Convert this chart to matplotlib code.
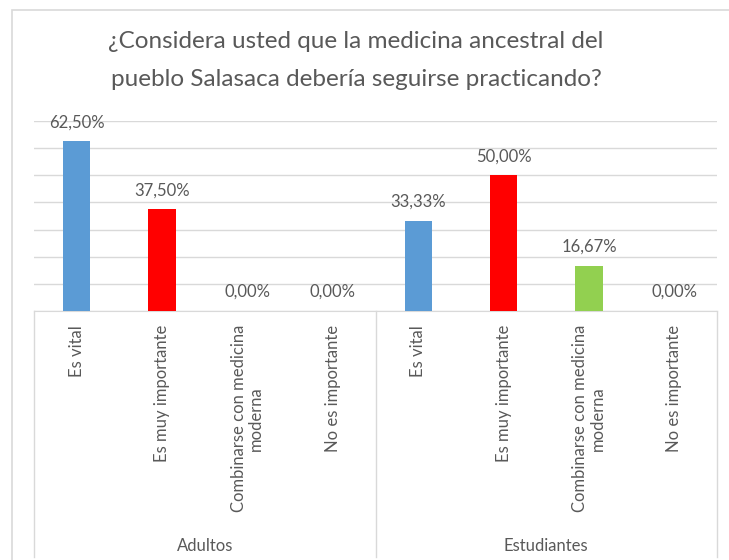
import matplotlib.pyplot as plt
from matplotlib.patches import Rectangle

plt.rcParams['font.family'] = ['Lato', 'DejaVu Sans']

title = '¿Considera usted que la medicina ancestral del\npueblo Salasaca debería seguirse practicando?'
groups = ['Adultos', 'Estudiantes']
categories = ['Es vital', 'Es muy importante', 'Combinarse con medicina\nmoderna', 'No es importante']
adultos = [62.50, 37.50, 0.00, 0.00]
estudiantes = [33.33, 50.00, 16.67, 0.00]
colors = ['#5B9BD5', '#FF0000', '#92D050', '#FFC000']

txt = '#595959'
grid = '#D9D9D9'

fig = plt.figure(figsize=(7.29, 5.6), dpi=100)
W, H = 729, 560

# chart frame (right and bottom edges fall outside the picture)
fig.patches.append(Rectangle((12 / W, -0.1), 1.2, 1 - 10 / H + 0.1, transform=fig.transFigure,
                             fill=False, edgecolor='#D9D9D9', linewidth=1.2))

ax = fig.add_axes([34 / W, (H - 311) / H, (717 - 34) / W, (311 - 121) / H])

values = adultos + estudiantes
labels = categories * 2
bar_colors = colors * 2
x = list(range(len(values)))

ax.bar(x, values, width=0.32, color=bar_colors, linewidth=0, zorder=3)
for xi, v in zip(x, values):
    ax.annotate(f'{v:.2f}%'.replace('.', ','), xy=(xi, v), xytext=(0, 19),
                textcoords='offset pixels', ha='center', va='center',
                fontsize=12, color=txt)

ax.set_xlim(-0.5, len(values) - 0.5)
ax.set_ylim(0, 70)
ax.set_yticks(range(0, 71, 10))
ax.yaxis.grid(True, color=grid, linewidth=1)
ax.set_axisbelow(True)
ax.tick_params(axis='y', length=0, labelleft=False)
ax.tick_params(axis='x', length=0, pad=10)
ax.set_xticks(x)
ax.set_xticklabels(labels, rotation=90, ha='center', va='top', fontsize=12,
                   color=txt, multialignment='center', linespacing=1.1)
for s in ['top', 'left', 'right']:
    ax.spines[s].set_visible(False)
ax.spines['bottom'].set_color(grid)

# group separators and labels
tr = ax.get_xaxis_transform()
for xs in [-0.5, 3.5, 7.5]:
    ax.plot([xs, xs], [0, -246 / 190], transform=tr, color=grid, linewidth=1, clip_on=False)
for i, g in enumerate(groups):
    ax.annotate(g, xy=(1.5 + 4 * i, 0), xycoords=tr, xytext=(0, -235),
                textcoords='offset pixels', ha='center', va='center',
                fontsize=12, color=txt)

fig.text(356 / W, 1 - 60 / H, title, ha='center', va='center', fontsize=17.5,
         color=txt, linespacing=2.0)

fig.savefig('out.png', dpi=100)
